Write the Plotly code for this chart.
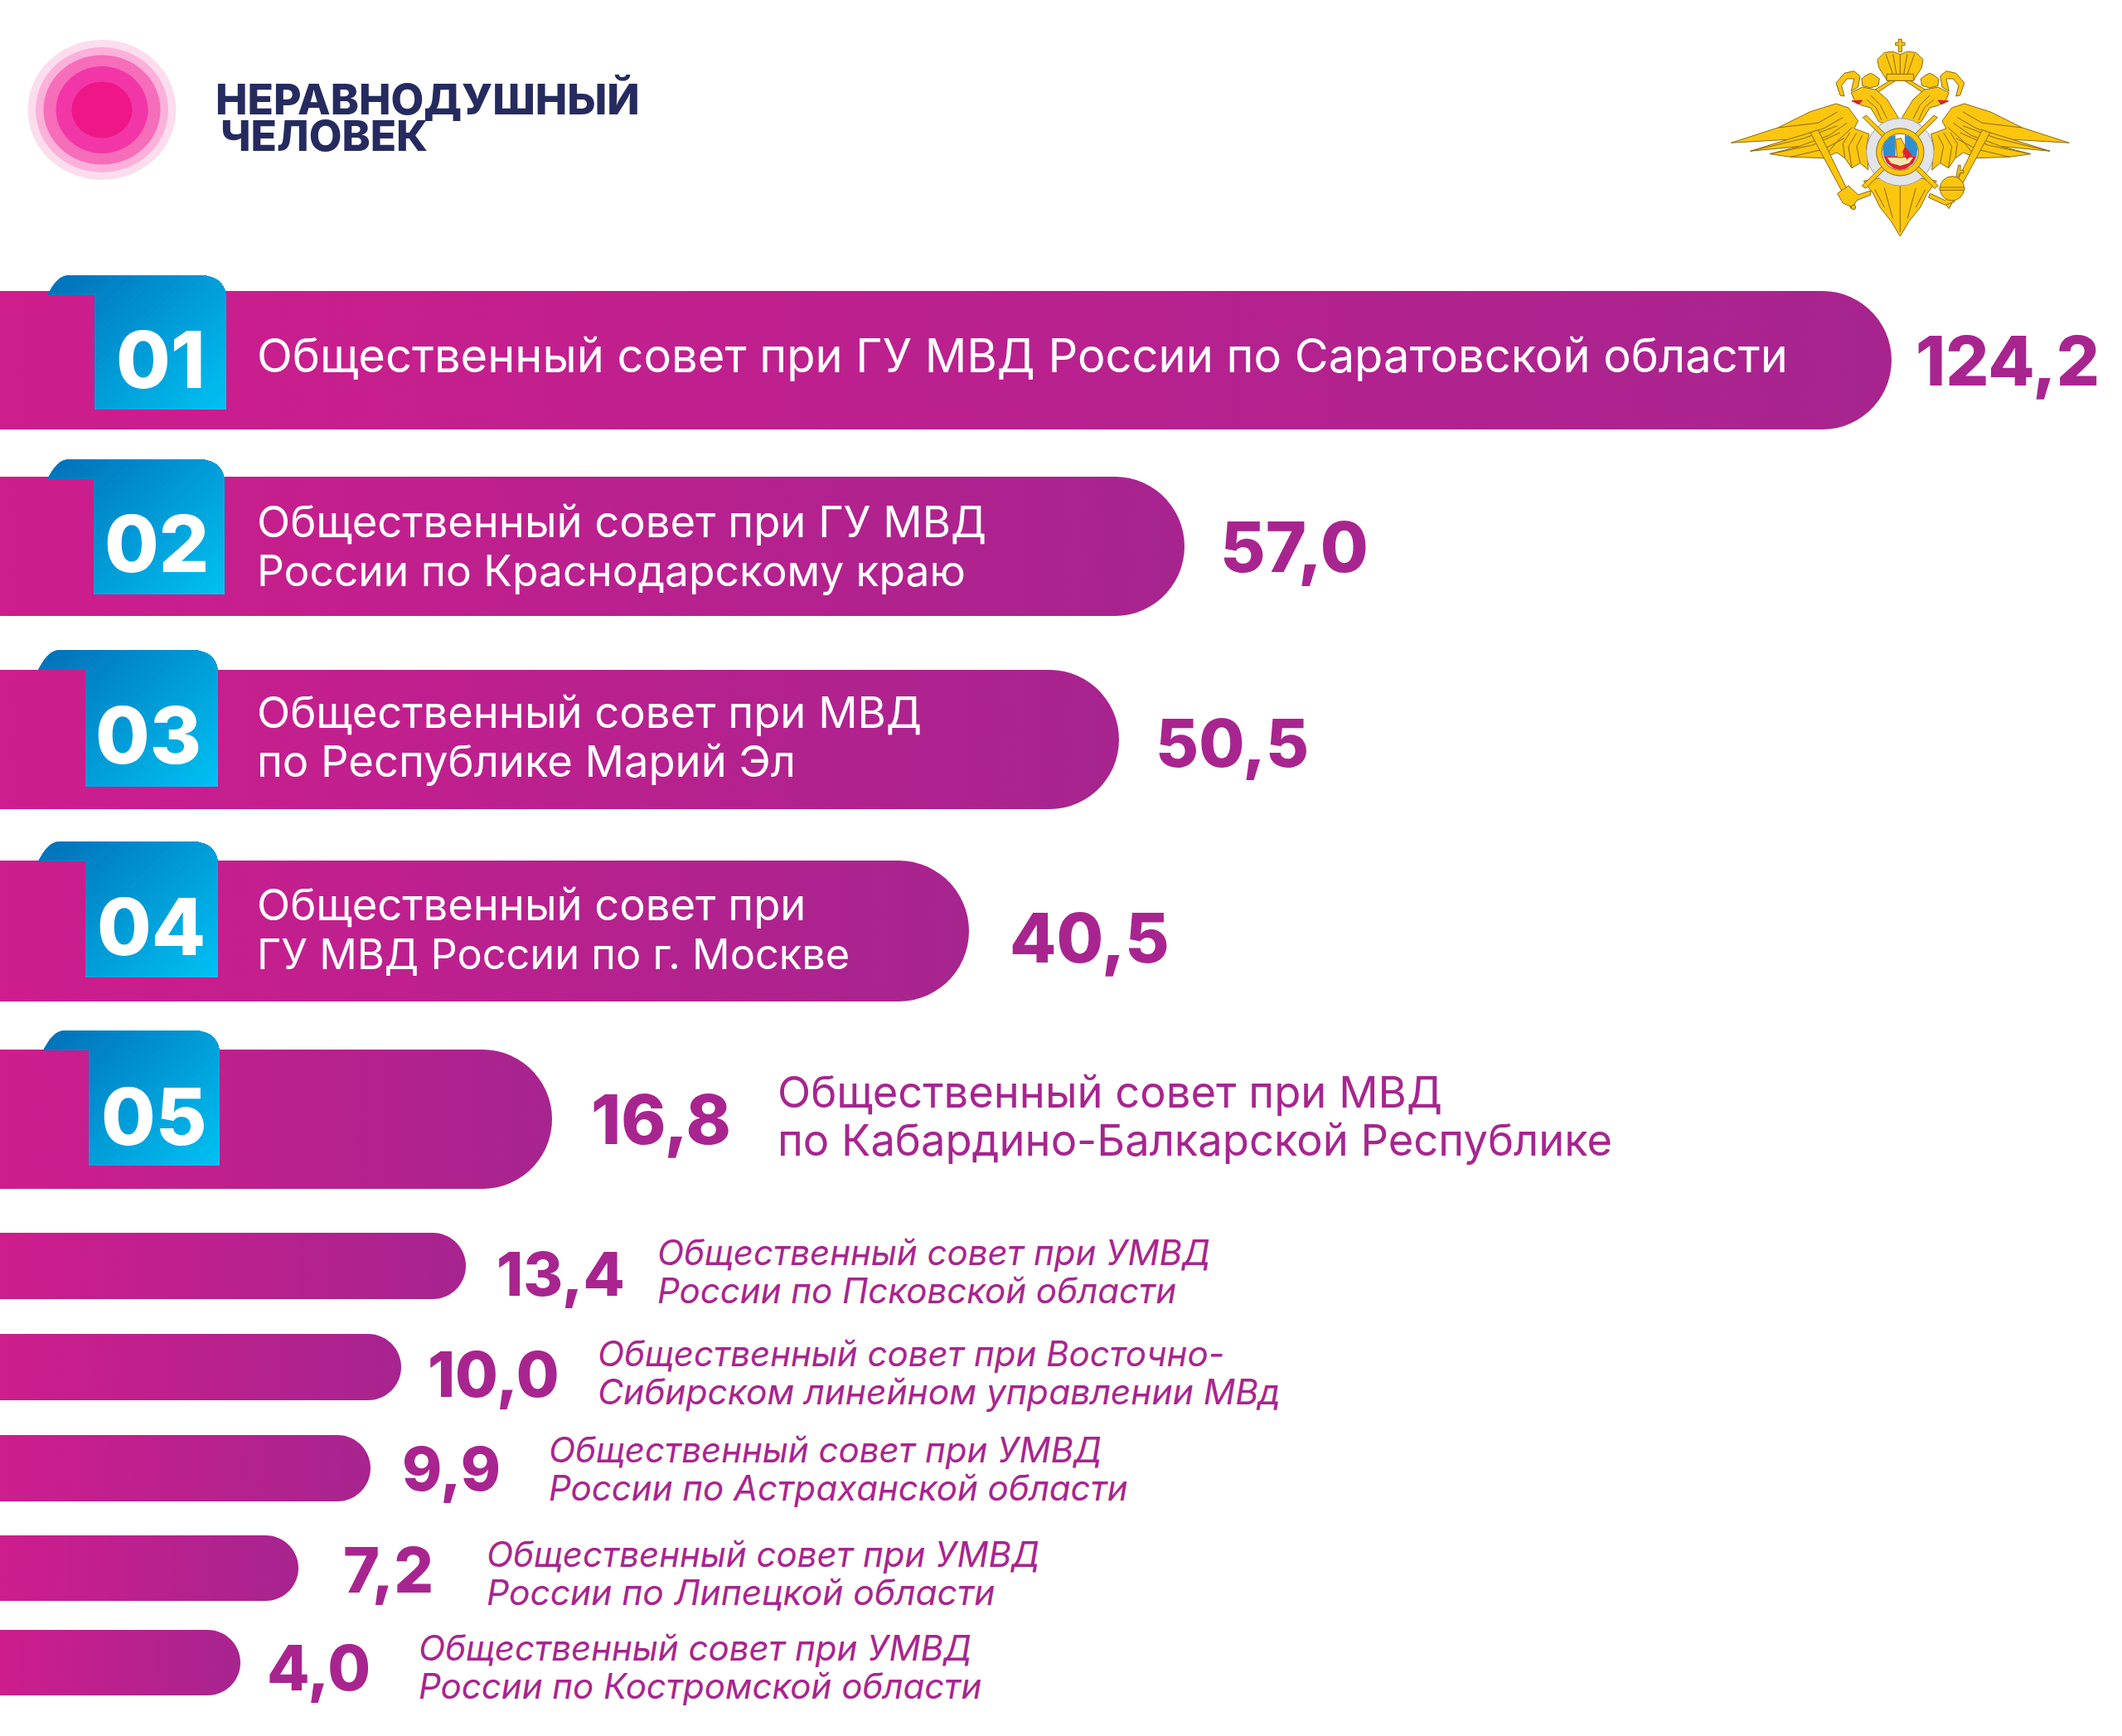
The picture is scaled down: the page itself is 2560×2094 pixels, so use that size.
import math
import plotly.graph_objects as go

# ---------- data ----------
ranks = ["01", "02", "03", "04", "05"]
value_labels = ["124,2", "57,0", "50,5", "40,5", "16,8", "13,4", "10,0", "9,9", "7,2", "4,0"]
categories = [
    ["Общественный совет при ГУ МВД России по Саратовской области"],
    ["Общественный совет при ГУ МВД", "России по Краснодарскому краю"],
    ["Общественный совет при МВД", "по Республике Марий Эл"],
    ["Общественный совет при", "ГУ МВД России по г. Москве"],
    ["Общественный совет при МВД", "по Кабардино-Балкарской Республике"],
    ["Общественный совет при УМВД", "России по Псковской области"],
    ["Общественный совет при Восточно-", "Сибирском линейном управлении МВд"],
    ["Общественный совет при УМВД", "России по Астраханской области"],
    ["Общественный совет при УМВД", "России по Липецкой области"],
    ["Общественный совет при УМВД", "России по Костромской области"],
]
# The picture's bars are not to a linear scale, so their drawn lengths are read separately.
bar_lengths = [2282, 1429, 1350, 1169, 666, 562, 484, 447, 360, 290]
brand_lines = ["НЕРАВНОДУШНЫЙ", "ЧЕЛОВЕК"]

# ---------- layout ----------
W, H = 2560, 2094
bar_tops = [351, 575, 808, 1038, 1266, 1487, 1609, 1731, 1852, 1966]
bar_bots = [518, 743, 976, 1208, 1434, 1567, 1689, 1811, 1931, 2045]
value_x = [2309, 1470, 1392, 1216, 711, 597, 514, 483, 412, 320]
value_y = [435, 659, 895, 1131, 1350, 1536, 1657, 1771, 1893, 2011]
label_x = [308, 308, 308, 308, 936, 791, 719, 660, 585, 503]
label_y = [[429], [629, 688], [859, 918], [1091, 1150], [1317, 1375],
           [1510, 1556], [1632, 1678], [1748, 1794], [1874, 1920], [1987, 2033]]
label_sizes = [[56], [52.5, 51.5], [52.5, 52.5], [52.5, 50.5], [52.5, 52.5],
               [42, 42], [42, 42.5], [42, 42], [42, 42.5], [42, 42]]
# tab: flap left, body left, right, top, fold, bottom
tabs = [(57, 114, 273, 332, 356, 494), (57, 113, 271, 554, 578, 717),
        (46, 103, 263, 784, 808, 949), (46, 103, 263, 1015, 1039, 1179),
        (52, 107, 265, 1243, 1267, 1406)]
rank_cx = [194, 189, 179, 182, 186]
rank_cy = [433, 655, 886, 1117, 1346]

FONT = "Inter"
PURPLE = "#A8258F"
NAVY = "#262B5F"
C0, C1 = "#CE1D8D", "#A7248F"
BLUE0, BLUE1 = (2, 112, 184), (0, 192, 242)

fig = go.Figure()
shapes = []
ann = []


def pill(right, top, bot):
    r = (bot - top) / 2
    xs, ys = [0, right - r], [top, top]
    for i in range(1, 30):
        a = -math.pi / 2 + math.pi * i / 30
        xs.append(right - r + r * math.cos(a))
        ys.append((top + bot) / 2 + r * math.sin(a))
    xs += [right - r, 0, 0]
    ys += [bot, bot, top]
    return xs, ys


for length, top, bot in zip(bar_lengths, bar_tops, bar_bots):
    xs, ys = pill(length, top, bot)
    fig.add_trace(go.Scatter(
        x=xs, y=ys, mode="none", fill="toself", hoverinfo="skip", showlegend=False,
        fillgradient=dict(type="horizontal", colorscale=[[0, C0], [1, C1]]),
    ))


def bez(p0, p1, p2, p3, n=12):
    out = []
    for i in range(1, n + 1):
        t = i / n
        a, b, c, d = (1 - t) ** 3, 3 * t * (1 - t) ** 2, 3 * t * t * (1 - t), t ** 3
        out.append((a * p0[0] + b * p1[0] + c * p2[0] + d * p3[0],
                    a * p0[1] + b * p1[1] + c * p2[1] + d * p3[1]))
    return out


def clip(poly, c):
    """keep the part of poly where x + y >= c"""
    out = []
    for i, p in enumerate(poly):
        q = poly[(i + 1) % len(poly)]
        fp, fq = p[0] + p[1] - c, q[0] + q[1] - c
        if fp >= 0:
            out.append(p)
        if fp * fq < 0:
            t = fp / (fp - fq)
            out.append((p[0] + t * (q[0] - p[0]), p[1] + t * (q[1] - p[1])))
    return out


def to_path(pts, close=True):
    s = "M" + " L".join(f"{x:.1f},{y:.1f}" for x, y in pts)
    return s + (" Z" if close else "")


def add_poly(pts, fill, line=None, lw=0, close=True):
    shapes.append(dict(type="path", path=to_path(pts, close), xref="x", yref="y",
                       fillcolor=fill if close else "rgba(0,0,0,0)",
                       line=dict(color=line or "rgba(0,0,0,0)", width=lw)))


for fx, bx, rx, top, fold, bottom in tabs:
    poly = [(fx, fold)]
    poly += bez((fx, fold), (fx + 8, fold - 14), (fx + 14, top), (fx + 28, top))
    poly.append((rx - 34, top))
    poly += bez((rx - 34, top), (rx - 10, top), (rx, top + 12), (rx, top + 30))
    poly += [(rx, bottom), (bx, bottom), (bx, fold)]
    c0 = fx + top
    c1 = rx + bottom
    N = 44
    for k in range(N):
        f = k / (N - 1)
        col = tuple(round(BLUE0[i] + (BLUE1[i] - BLUE0[i]) * f) for i in range(3))
        pts = clip(poly, c0 + (c1 - c0) * k / N)
        if len(pts) >= 3:
            add_poly(pts, f"rgb{col}")

# ---------- logo ----------
logo_cx, logo_cy = 123, 132.5
for rxx, ryy, col in [(89.5, 84.5, "#FBDDEE"), (80, 75.5, "#FBB1DA"), (70.5, 66, "#F66DB9"),
                      (55.5, 52.5, "#F236A8"), (36.5, 34, "#EF1788")]:
    shapes.append(dict(type="circle", xref="x", yref="y", fillcolor=col, line=dict(width=0),
                       x0=logo_cx - rxx, x1=logo_cx + rxx, y0=logo_cy - ryy, y1=logo_cy + ryy))

# ---------- emblem (decorative, drawn in zoomed-crop units) ----------
GOLD = "#FCC60F"
EDGE = "#8A6A10"


def ez(pts):
    return [(2060 + x / 3, 20 + y / 3) for x, y in pts]


def mirror(pts):
    return [(1394 - x, y) for x, y in pts]


def both(pts, fill=GOLD, line=EDGE, lw=1, close=True):
    add_poly(ez(pts), fill, line, lw, close)
    add_poly(ez(mirror(pts)), fill, line, lw, close)


def ecircle(cx, cy, r, fill, line=EDGE, lw=1):
    shapes.append(dict(type="circle", xref="x", yref="y", fillcolor=fill,
                       line=dict(color=line, width=lw),
                       x0=2060 + (cx - r) / 3, x1=2060 + (cx + r) / 3,
                       y0=20 + (cy - r) / 3, y1=20 + (cy + r) / 3))


wing = [(85, 457), (255, 402), (370, 345), (465, 315), (510, 330), (545, 378), (530, 405),
        (585, 425), (575, 470), (582, 555), (552, 530), (522, 548), (497, 512), (468, 492),
        (420, 512), (300, 508), (225, 497), (330, 470), (155, 487), (290, 445)]
both(wing)
for ln in [[(255, 402), (400, 385), (470, 345)], [(290, 445), (420, 405), (490, 365)],
           [(330, 470), (440, 430), (505, 385)], [(420, 512), (470, 450), (525, 400)],
           [(522, 548), (510, 470), (540, 420)], [(552, 530), (540, 470), (560, 430)],
           [(155, 487), (350, 440), (470, 395)], [(225, 497), (380, 465), (480, 420)],
           [(300, 508), (420, 480), (495, 440)], [(497, 512), (490, 460), (515, 420)]]:
    both(ln, close=False)
both([(600, 268), (650, 238), (697, 212), (697, 222), (655, 248), (615, 275)])
both([(520, 275), (560, 255), (610, 265), (650, 300), (690, 365), (665, 395), (620, 380),
      (590, 330), (555, 320), (530, 300)])
for ln in [[(590, 285), (625, 320), (650, 370)], [(575, 300), (610, 330), (630, 375)]]:
    both(ln, close=False)
both([(522, 305), (560, 303), (548, 318)], fill="#D4252E", line="#D4252E")
both([(560, 250), (558, 225), (575, 212), (590, 205), (605, 212), (622, 225), (618, 250), (590, 258)])
both([(480, 285), (465, 240), (495, 205), (530, 197), (552, 215), (545, 255), (520, 270),
      (530, 225), (505, 225), (485, 250), (495, 288)])
# sceptre
both([(372, 420), (400, 410), (532, 680), (520, 695)])
# big crown
add_poly(ez([(650, 232), (620, 185), (615, 155), (640, 130), (672, 127), (697, 137), (722, 127),
             (754, 130), (780, 155), (775, 185), (745, 232)]), GOLD, EDGE, 1)
for dx in (-40, -20, 0, 20, 40):
    add_poly(ez([(697 + dx * 0.6, 215), (697 + dx * 1.3, 135)]), GOLD, EDGE, 1, False)
add_poly(ez([(648, 208), (746, 208), (746, 232), (648, 232)]), GOLD, EDGE, 1)
add_poly(ez([(691, 82), (703, 82), (703, 94), (714, 94), (714, 104), (703, 104), (703, 128),
             (691, 128), (691, 104), (680, 104), (680, 94), (691, 94)]), GOLD, EDGE, 1)
# tail
add_poly(ez([(565, 595), (620, 585), (697, 610), (774, 585), (829, 595), (795, 640), (770, 690),
             (730, 740), (697, 795), (664, 740), (624, 690), (599, 640)]), GOLD, EDGE, 1)
for ln in [[(697, 610), (697, 780)], [(640, 620), (670, 730)], [(754, 620), (724, 730)],
           [(605, 625), (640, 690)], [(789, 625), (754, 690)]]:
    add_poly(ez(ln), GOLD, EDGE, 1, False)
# central medallion: laurel ring, crossed batons, gold ring, shield
ecircle(697, 490, 122, "#E2E4E8", "#9AA0A8", 1)
both([(562, 365), (575, 358), (835, 612), (822, 622)])
ecircle(697, 490, 86, GOLD)
ecircle(697, 490, 66, "#FFFFFF")
add_poly(ez([(634, 480), (640, 455), (665, 432), (680, 430), (680, 505), (637, 505)]), "#2F8FD0")
add_poly(ez([(714, 430), (729, 432), (754, 455), (760, 480), (757, 505), (714, 505)]), "#2F8FD0")
add_poly(ez([(637, 505), (757, 505), (745, 530), (720, 550), (697, 555), (674, 550), (649, 530)]), "#D8262C")
add_poly(ez([(650, 510), (744, 510), (730, 530), (697, 540), (664, 530)]), "#F4E6B0")
add_poly(ez([(680, 445), (700, 440), (715, 470), (708, 510), (686, 510)]), GOLD, EDGE, 1)
add_poly(ez([(715, 470), (740, 500), (722, 518), (705, 490)]), "#D8262C")
# claws and orb
add_poly(ez([(470, 640), (510, 612), (545, 645), (590, 630), (590, 645), (540, 665), (525, 690), (490, 675)]), GOLD, EDGE, 1)
add_poly(ez([(805, 640), (860, 665), (870, 655), (895, 670), (860, 682), (800, 655)]), GOLD, EDGE, 1)
ecircle(885, 622, 44, GOLD)
add_poly(ez([(840, 618), (930, 618), (930, 628), (840, 628)]), GOLD, EDGE, 1)
add_poly(ez([(900, 578), (908, 538), (916, 538), (914, 556), (926, 556), (926, 566), (912, 566), (908, 580)]), GOLD, EDGE, 1)
ecircle(528, 690, 8, GOLD)


# ---------- text ----------
def text(x, y, s, size, color, weight=400, style="normal", anchor="left"):
    ann.append(dict(x=x, y=y, xref="x", yref="y", text=s, showarrow=False, xanchor=anchor,
                    yanchor="middle", align=anchor,
                    font=dict(family=FONT, size=size, color=color, weight=weight, style=style)))


text(258, 119, brand_lines[0], 51.5, NAVY, 800)
text(264, 163, brand_lines[1], 51.5, NAVY, 800)

value_sizes = [82, 84, 80, 82, 82, 73, 75, 73, 75, 75]
for i, lab in enumerate(value_labels):
    text(value_x[i], value_y[i], lab, value_sizes[i], PURPLE, 800)

for i, lines in enumerate(categories):
    for line, y, size in zip(lines, label_y[i], label_sizes[i]):
        if i < 4:
            text(label_x[i], y, line, size, "#FFFFFF")
        elif i == 4:
            text(label_x[i], y, line, size, PURPLE)
        else:
            text(label_x[i], y, line, size, PURPLE, style="italic")

for r, cx, cy in zip(ranks, rank_cx, rank_cy):
    text(cx, cy, r, 95, "#FFFFFF", 800, anchor="center")

fig.update_layout(
    width=W, height=H, margin=dict(l=0, r=0, t=0, b=0),
    paper_bgcolor="white", plot_bgcolor="white", showlegend=False,
    xaxis=dict(range=[0, W], visible=False, fixedrange=True),
    yaxis=dict(range=[H, 0], visible=False, fixedrange=True),
    shapes=shapes, annotations=ann,
)
fig.write_html("out.html", config=dict(displayModeBar=False),
               post_script="document.body.style.margin='0';document.body.style.overflow='hidden';")
